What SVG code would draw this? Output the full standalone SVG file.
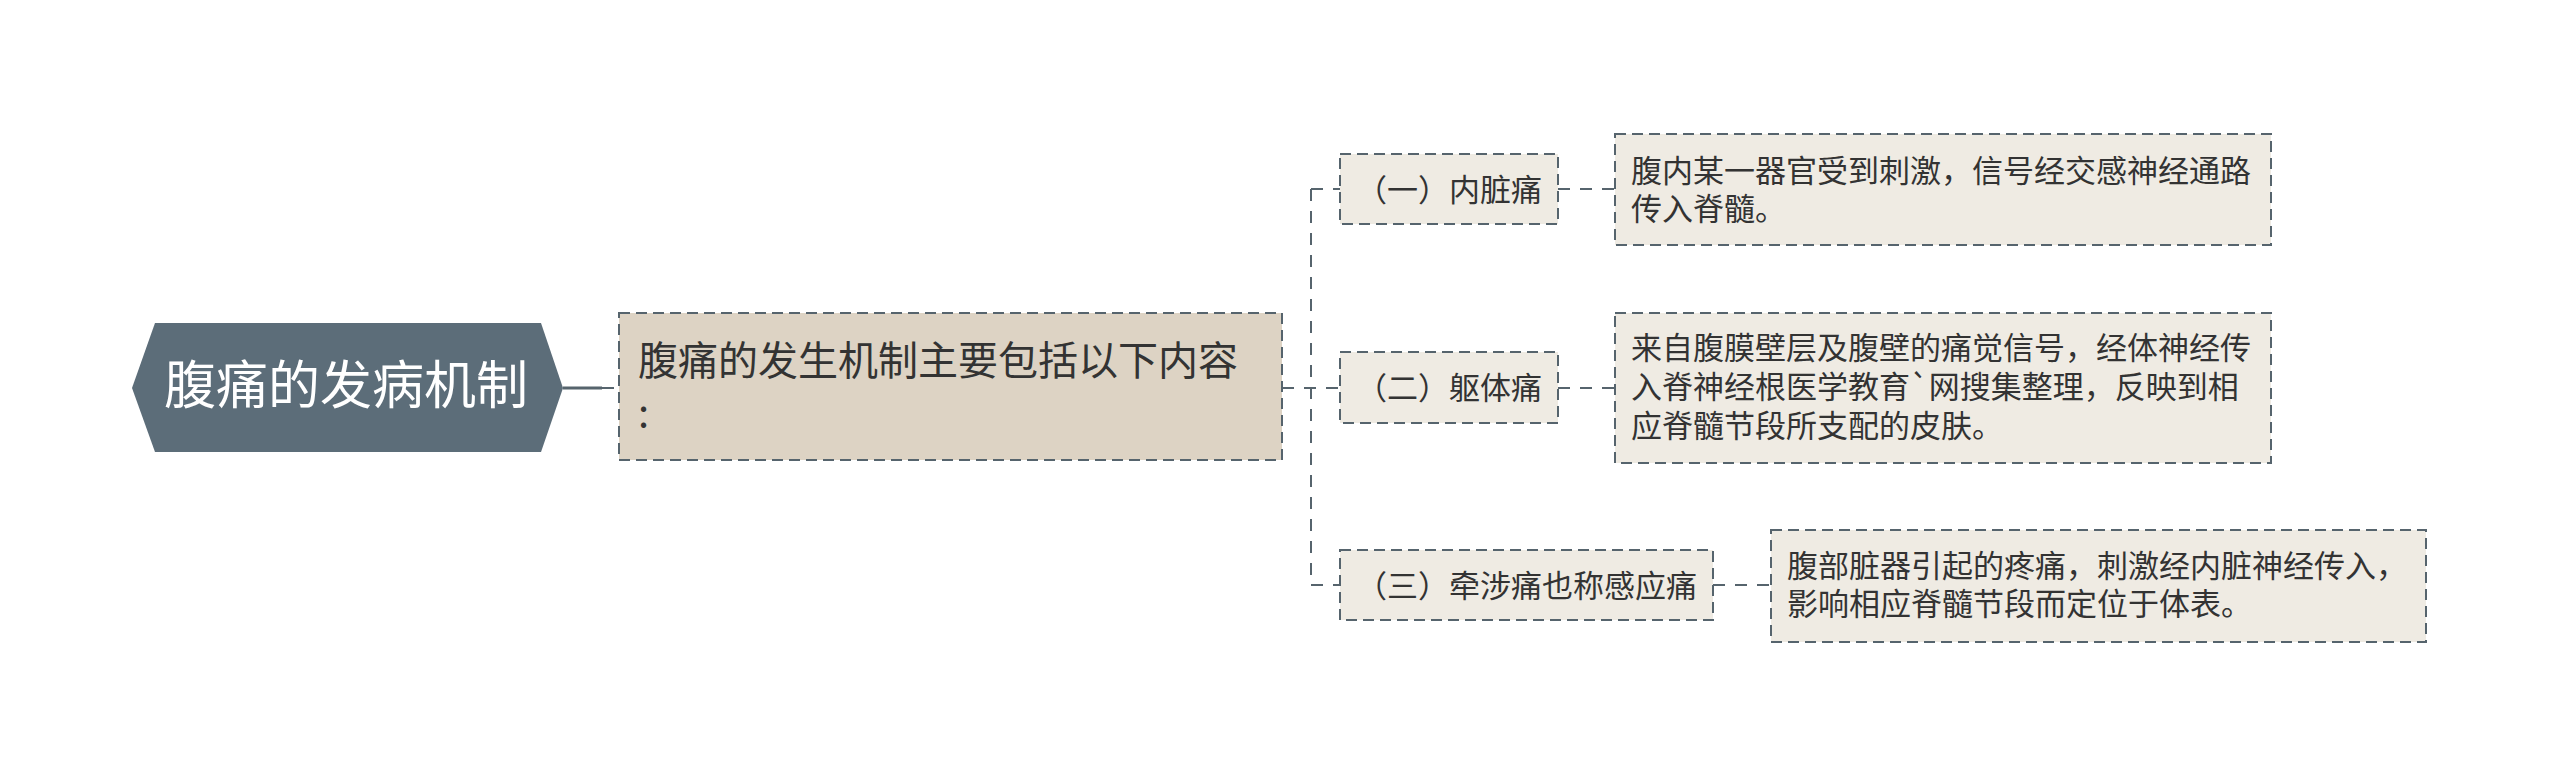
<svg xmlns="http://www.w3.org/2000/svg" width="2560" height="775" viewBox="0 0 2560 775">
<style>
text{font-family:"Noto Sans CJK SC","Noto Sans",sans-serif;fill:#333333}
.box{stroke:#56646d;stroke-width:2;stroke-dasharray:11 6}
.main{fill:#ddd3c4}
.sub{fill:#efebe3}
.lbl{font-size:31px}
.leaf{font-size:31px}
.conn{fill:none;stroke:#56646d;stroke-width:2;stroke-dasharray:12 10}
</style>
<rect width="2560" height="775" fill="#ffffff"/>
<g id="connectors">
<path d="M563 388 H602" fill="none" stroke="#56646d" stroke-width="3"/>
<path class="conn" d="M602 388 H619"/>
<path class="conn" d="M1282 388 H1340"/>
<path class="conn" d="M1311 189 V585"/>
<path class="conn" d="M1311 189 H1340"/>
<path class="conn" d="M1311 585 H1340"/>
<path class="conn" d="M1558 189 H1615"/>
<path class="conn" d="M1558 388 H1615"/>
<path class="conn" d="M1713 585 H1771"/>
</g>
<g id="root">
<polygon points="132,388 155,323 541,323 563,388 541,452 155,452" fill="#5c6d79"/>
<text x="346" y="404" font-size="52" text-anchor="middle" style="fill:#ffffff">腹痛的发病机制</text>
</g>
<g id="main">
<rect class="box main" x="619" y="313" width="663" height="147"/>
<text x="638" y="375" font-size="40">腹痛的发生机制主要包括以下内容</text>
<text x="638" y="427" font-size="40">:</text>
</g>
<g id="b1">
<rect class="box sub" x="1340" y="154" width="218" height="70"/>
<text class="lbl" x="1356" y="201">（一）内脏痛</text>
</g>
<g id="b2">
<rect class="box sub" x="1340" y="352" width="218" height="71"/>
<text class="lbl" x="1356" y="399">（二）躯体痛</text>
</g>
<g id="b3">
<rect class="box sub" x="1340" y="550" width="373" height="70"/>
<text class="lbl" x="1356" y="597">（三）牵涉痛也称感应痛</text>
</g>
<g id="l1">
<rect class="box sub" x="1615" y="134" width="656" height="111"/>
<text class="leaf" x="1631" y="182">腹内某一器官受到刺激，信号经交感神经通路</text>
<text class="leaf" x="1631" y="220">传入脊髓。</text>
</g>
<g id="l2">
<rect class="box sub" x="1615" y="313" width="656" height="150"/>
<text class="leaf" x="1631" y="359">来自腹膜壁层及腹壁的痛觉信号，经体神经传</text>
<text class="leaf" x="1631" y="398">入脊神经根医学教育`网搜集整理，反映到相</text>
<text class="leaf" x="1631" y="437">应脊髓节段所支配的皮肤。</text>
</g>
<g id="l3">
<rect class="box sub" x="1771" y="530" width="655" height="112"/>
<text class="leaf" x="1787" y="577">腹部脏器引起的疼痛，刺激经内脏神经传入，</text>
<text class="leaf" x="1787" y="615">影响相应脊髓节段而定位于体表。</text>
</g>
</svg>
